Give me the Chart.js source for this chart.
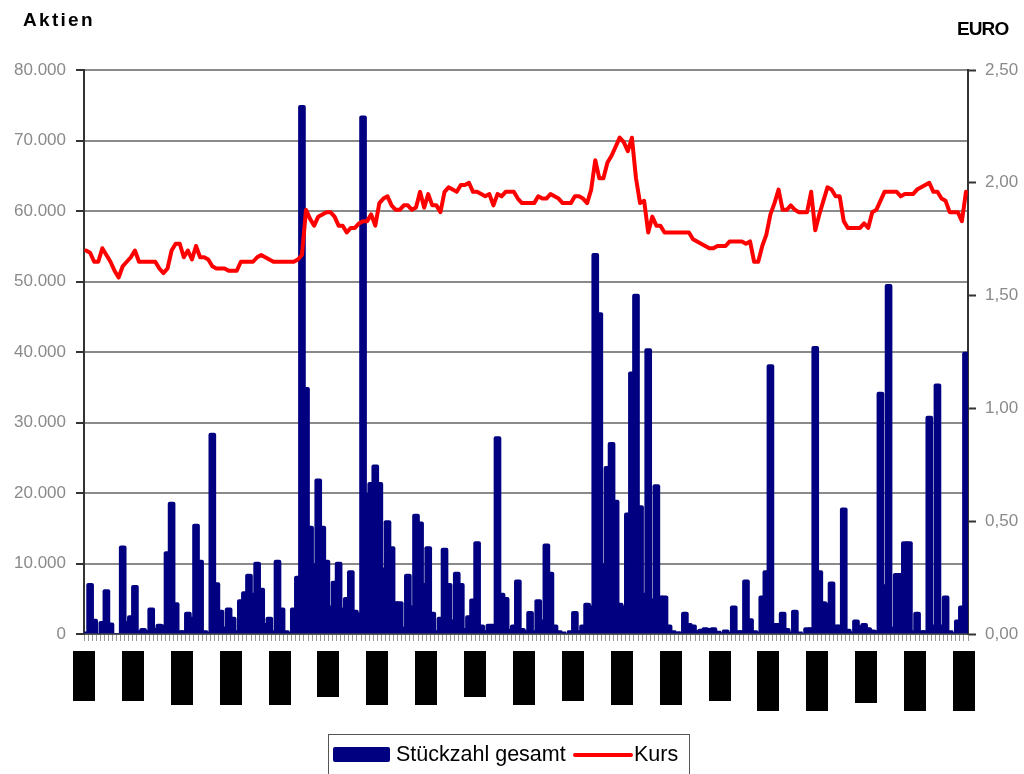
<!DOCTYPE html>
<html>
<head>
<meta charset="utf-8">
<script src="https://cdn.jsdelivr.net/npm/chart.js@4/dist/chart.umd.min.js"></script>
<style>
html,body{margin:0;padding:0;background:#fff;overflow:hidden}
#wrap{position:relative;width:1024px;height:774px;font-family:"Liberation Sans",Arial,sans-serif;color:#000}
canvas{position:absolute;left:0;top:0}
#tl{position:absolute;left:23px;top:9px;font-weight:bold;font-size:19px;letter-spacing:2.3px;white-space:nowrap}
#tr{position:absolute;left:957px;top:18px;font-weight:bold;font-size:19px;letter-spacing:-0.9px;white-space:nowrap}
#legend{position:absolute;left:328px;top:734px;width:362px;height:60px;border:1px solid #555;box-sizing:border-box}
.lg{position:absolute;white-space:nowrap;font-size:21.5px}
#sw1{position:absolute;left:4px;top:12px;width:57px;height:15px;background:#000080;border-radius:2px}
#sw2{position:absolute;left:244px;top:18px;width:60px;height:4px;background:#ff0000;border-radius:2px}
</style>
</head>
<body>
<div id="wrap">
<canvas id="c" width="1024" height="774"></canvas>
<div id="tl">Aktien</div>
<div id="tr">EURO</div>
<div id="legend">
  <div id="sw1"></div>
  <div class="lg" style="left:67px;top:7px">Stückzahl gesamt</div>
  <div id="sw2"></div>
  <div class="lg" style="left:305px;top:7px">Kurs</div>
</div>
</div>
<script>
// ---- data ----
const categories = Array.from({length: 217}, (_, i) => String(i + 1));

const stueckzahl = [
  300, 7200, 2100, 0, 1800, 6300, 1600, 0, 0, 12500,
  1800, 2600, 6900, 500, 800, 500, 3700, 800, 1400, 1300,
  11700, 18700, 4450, 500, 500, 3100, 2400, 15600, 10500, 500,
  300, 28500, 7300, 3400, 1000, 3700, 2400, 500, 4900, 6000,
  8500, 5800, 10200, 6500, 1500, 2400, 500, 10500, 3700, 500,
  300, 3700, 8200, 75000, 35000, 15300, 10000, 22000, 15300, 10500,
  4000, 7500, 10200, 3700, 5200, 9000, 3400, 3000, 73500, 20000,
  21500, 24000, 21500, 9400, 16100, 12400, 4600, 4600, 1000, 8500,
  4000, 17000, 15900, 7200, 12400, 3100, 500, 2400, 12200, 7200,
  2000, 8800, 7200, 800, 2600, 5000, 13100, 1300, 500, 1400,
  1400, 28000, 5800, 5200, 700, 1300, 7700, 800, 500, 3200,
  500, 4900, 2000, 12800, 8800, 1300, 500, 300, 0, 500,
  3200, 500, 1300, 4400, 4000, 54000, 45600, 10000, 23800, 27200,
  19000, 4400, 4000, 17200, 37200, 48200, 18200, 5800, 40500, 5000,
  21200, 5400, 5400, 1300, 500, 300, 300, 3100, 1500, 1300,
  500, 700, 900, 800, 900, 400, 200, 600, 300, 4000,
  500, 500, 7700, 2200, 500, 300, 5400, 9000, 38200, 1500,
  1500, 3100, 800, 300, 3400, 300, 0, 900, 900, 40800,
  9000, 4600, 4400, 7400, 1300, 1300, 17900, 700, 300, 2000,
  1200, 1500, 900, 600, 500, 34300, 7000, 49600, 1000, 8600,
  8600, 13100, 13100, 500, 3100, 500, 500, 30900, 1300, 35500,
  1300, 5400, 500, 200, 2000, 4000, 40000
];

const kurs = [
  1.70, 1.69, 1.65, 1.65, 1.71, 1.68, 1.65, 1.61, 1.58, 1.63,
  1.65, 1.67, 1.70, 1.65, 1.65, 1.65, 1.65, 1.65, 1.62, 1.60,
  1.62, 1.70, 1.73, 1.73, 1.67, 1.70, 1.66, 1.72, 1.67, 1.67,
  1.66, 1.63, 1.62, 1.62, 1.62, 1.61, 1.61, 1.61, 1.65, 1.65,
  1.65, 1.65, 1.67, 1.68, 1.67, 1.66, 1.65, 1.65, 1.65, 1.65,
  1.65, 1.65, 1.66, 1.68, 1.88, 1.84, 1.81, 1.85, 1.86, 1.87,
  1.87, 1.85, 1.81, 1.81, 1.78, 1.80, 1.80, 1.82, 1.83, 1.83,
  1.86, 1.81, 1.91, 1.93, 1.94, 1.90, 1.88, 1.88, 1.90, 1.90,
  1.88, 1.89, 1.96, 1.89, 1.95, 1.90, 1.90, 1.87, 1.96, 1.98,
  1.97, 1.96, 1.99, 1.99, 2.00, 1.96, 1.96, 1.95, 1.94, 1.95,
  1.90, 1.95, 1.94, 1.96, 1.96, 1.96, 1.93, 1.91, 1.91, 1.91,
  1.91, 1.94, 1.93, 1.93, 1.95, 1.94, 1.93, 1.91, 1.91, 1.91,
  1.94, 1.94, 1.93, 1.91, 1.97, 2.10, 2.02, 2.02, 2.09, 2.12,
  2.16, 2.20, 2.18, 2.14, 2.20, 2.02, 1.91, 1.92, 1.78, 1.85,
  1.81, 1.81, 1.78, 1.78, 1.78, 1.78, 1.78, 1.78, 1.78, 1.75,
  1.74, 1.73, 1.72, 1.71, 1.71, 1.72, 1.72, 1.72, 1.74, 1.74,
  1.74, 1.74, 1.73, 1.74, 1.65, 1.65, 1.72, 1.77, 1.86, 1.91,
  1.97, 1.88, 1.88, 1.90, 1.88, 1.87, 1.87, 1.87, 1.96, 1.79,
  1.86, 1.92, 1.98, 1.97, 1.94, 1.94, 1.83, 1.80, 1.80, 1.80,
  1.80, 1.82, 1.80, 1.87, 1.88, 1.92, 1.96, 1.96, 1.96, 1.96,
  1.94, 1.95, 1.95, 1.95, 1.97, 1.98, 1.99, 2.00, 1.96, 1.96,
  1.93, 1.92, 1.87, 1.87, 1.87, 1.83, 1.96
];

// category positions of the (unreadable, blacked-out) x-axis labels
const labelIndices = [0, 12, 24, 36, 48, 60, 72, 84, 96, 108, 120, 132, 144, 156, 168, 180, 192, 204, 216];

// ---- styling ----
const labelBoxHeights = [50, 50, 54, 54, 54, 46, 54, 54, 46, 54, 50, 54, 54, 50, 60, 60, 52, 60, 60];
const FONT = '"Liberation Sans", Arial, sans-serif';

const labelBoxes = {
  id: 'labelBoxes',
  afterDraw(chart) {
    const xs = chart.scales.x;
    const ctx = chart.ctx;
    const half = (xs.getPixelForValue(1) - xs.getPixelForValue(0)) / 2;
    ctx.save();
    ctx.fillStyle = '#000';
    labelIndices.forEach((idx, k) => {
      const cx = xs.getPixelForValue(idx) - half;
      ctx.fillRect(Math.round(cx - 11), xs.top + 17, 22, labelBoxHeights[k]);
    });
    ctx.restore();
  }
};

new Chart(document.getElementById('c'), {
  type: 'bar',
  data: {
    labels: categories,
    datasets: [
      {
        type: 'line',
        label: 'Kurs',
        data: kurs,
        yAxisID: 'y1',
        borderColor: '#ff0000',
        borderWidth: 4,
        pointRadius: 0,
        tension: 0,
        borderJoinStyle: 'round',
        borderCapStyle: 'round',
        order: 0
      },
      {
        type: 'bar',
        label: 'Stückzahl gesamt',
        data: stueckzahl,
        yAxisID: 'y',
        backgroundColor: '#000080',
        barThickness: 7,
        borderRadius: 2,
        order: 1
      }
    ]
  },
  options: {
    responsive: false,
    animation: false,
    devicePixelRatio: 1,
    layout: { padding: { top: 70, left: 0, right: 0, bottom: 0 } },
    plugins: { legend: { display: false }, tooltip: { enabled: false }, title: { display: false } },
    scales: {
      x: {
        offset: true,
        ticks: { display: false, autoSkip: false },
        grid: { display: true, drawOnChartArea: false, drawTicks: true, tickLength: 7, color: '#999', lineWidth: 1 },
        border: { display: true, color: '#555', width: 2 },
        afterFit(s) { s.height = 140; }
      },
      y: {
        position: 'left',
        min: 0, max: 80000,
        ticks: {
          stepSize: 10000,
          color: '#8a8a8a',
          padding: 10,
          font: { family: FONT, size: 17 },
          callback: v => v.toLocaleString('de-DE')
        },
        grid: { color: '#8a8a8a', lineWidth: 2, tickLength: 8, tickColor: '#333', tickWidth: 2 },
        border: { display: true, color: '#333', width: 2 },
        afterFit(s) { s.width = 84; }
      },
      y1: {
        position: 'right',
        min: 0, max: 2.5,
        ticks: {
          stepSize: 0.5,
          color: '#8a8a8a',
          padding: 9,
          font: { family: FONT, size: 17 },
          callback: v => v.toFixed(2).replace('.', ',')
        },
        grid: { drawOnChartArea: false, tickLength: 8, color: '#333', tickColor: '#333', tickWidth: 2 },
        border: { display: true, color: '#333', width: 2 },
        afterFit(s) { s.width = 56; }
      }
    }
  },
  plugins: [labelBoxes]
});
</script>
</body>
</html>
